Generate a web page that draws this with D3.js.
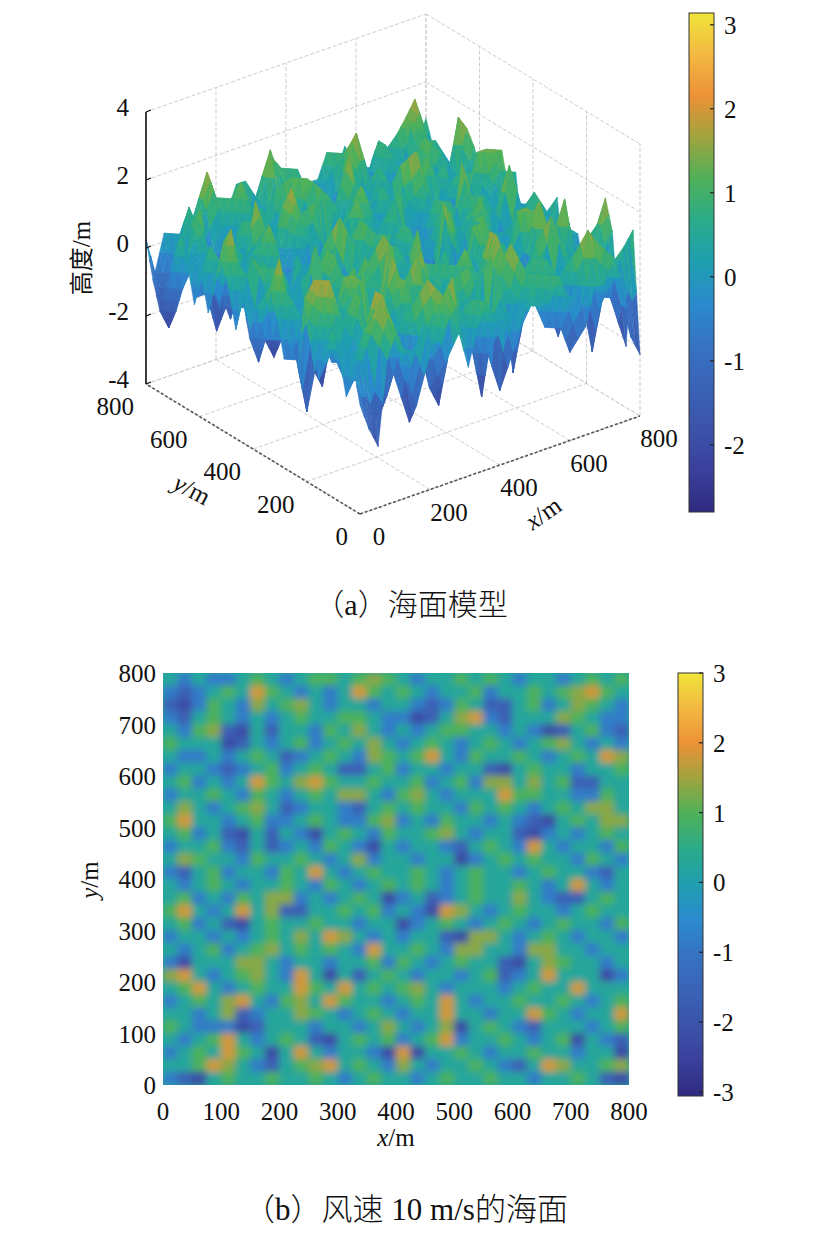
<!DOCTYPE html>
<html lang="zh">
<head>
<meta charset="UTF-8">
<title>海面模型</title>
<script src="https://d3js.org/d3.v7.min.js"></script>
<style>
  body { margin: 0; background: #fff; }
  svg { display: block; }
  text { text-spacing-trim: space-all; }
  .num { font-family: "Liberation Serif", "DejaVu Serif", serif; font-size: 25px; fill: #111; }
  .cjk { font-family: "Noto Sans CJK SC", sans-serif; fill: #111; }
</style>
</head>
<body>
<svg id="chart" width="824" height="1236"></svg>
<script>
// sea surface height, one digit per cell; digit -> level below
const levelValues = [-2.2, -1.6, -0.8, 0.25, 0.95, 1.35, 1.8];

// rows from y = 800 (top) down to y = 400
const seaRowsTop = [
  "32322343234434543233434323323434",
  "21234364323236434323342334345643",
  "10243253453233233212431134235432",
  "21343232343344322013562133354322",
  "32451031332435323234433232013421",
  "43330132342343532343234323453232",
  "32232343123432543463243343234365",
  "23321234234311342332331034332334",
  "34232364356433433423425535341133",
  "23343243234355324532333644332243",
  "35323453123321343433243432343553",
  "46332342234322452324332321034355",
  "34231031320343243345323310232343",
  "23342131232432032332134326323324",
  "35433243343235233233023434332432",
  "21342332436323433432343323433213"
];
// rows from y = 400 down to y = 0
const seaRowsBottom = [
  "32343233432432343432343343236323",
  "34232435523234302312343353211343",
  "46323635113343423206532343323433",
  "34231034334332330234323432343324",
  "23323234353653232331055323432332",
  "32342345343432633432553325533233",
  "20333553233233424323433103543323",
  "56323453263031343233234123633302",
  "34632343364363434532333234336333",
  "23435632453643323436323343343234",
  "33235123354323432336332336432336",
  "43222013332332353235034321333234",
  "32346323431034342346233432340321",
  "23436430363233206033432334332330",
  "33465321345634325323343213653345",
  "21034334334323433234334332334310"
];

const mapTicks = [0, 100, 200, 300, 400, 500, 600, 700, 800];
const boxTicks = [0, 200, 400, 600, 800];
const zTicks = [-4, -2, 0, 2, 4];
const barTicksA = [-2, -1, 0, 1, 2, 3];
const barTicksB = [-3, -2, -1, 0, 1, 2, 3];

// parula-like colour ramp as printed
const paletteStops = [0, 0.083, 0.167, 0.25, 0.333, 0.417, 0.5, 0.583, 0.667, 0.75, 0.833, 0.917, 1];
const paletteColors = ["#2f2a7f", "#3a409c", "#3b53a9", "#3a63b6", "#3672c2", "#2b8acd", "#1f9fb0",
                       "#2aab8a", "#4eb15a", "#9fa43f", "#ec9137", "#f3b842", "#f0e53a"];

const captionA = ["（", "a", "）", "海面模型"];
const captionB = ["（", "b", "）", "风速", " 10 m/s", "的海面"];

const svg = d3.select("#chart");
const defs = svg.append("defs");
const palette = d3.scaleLinear().domain(paletteStops).range(paletteColors).clamp(true);
const serif = "'Liberation Serif', 'DejaVu Serif', serif";

const seaGrid = seaRowsTop.concat(seaRowsBottom).map(row => Array.from(row, ch => levelValues[+ch]));
const nRows = seaGrid.length, nCols = seaGrid[0].length;

// colour limits of the two panels
const domA = [-2.8, 3.14];
const domB = [-3.06, 3.0];
const tA = d3.scaleLinear().domain(domA).range([0, 1]);
const tB = d3.scaleLinear().domain(domB).range([0, 1]);
const colorA = v => palette(tA(v));
const colorB = v => palette(tB(v));

function numText(x, y, s, anchor) {
  return svg.append("text").attr("class", "num").attr("font-family", serif)
    .attr("x", x).attr("y", y).attr("text-anchor", anchor || "start").text(s);
}

// ---------- (a) 3D surface ----------
const origin = [360, 514];
const ex = [280, -98], ey = [-214, -130], ez = [0, -272];
const sxy = d3.scaleLinear().domain([0, 800]).range([0, 1]);
const sz = d3.scaleLinear().domain([-4, 4]).range([0, 1]);
function proj(x, y, z) {
  const a = sxy(x), b = sxy(y), c = sz(z);
  return [origin[0] + a * ex[0] + b * ey[0] + c * ez[0],
          origin[1] + a * ex[1] + b * ey[1] + c * ez[1]];
}
const line3 = (p, q) => "M" + proj(...p) + "L" + proj(...q);

const grid3 = svg.append("g")
  .attr("fill", "none").attr("stroke", "#cdcdcd").attr("stroke-width", 1).attr("stroke-dasharray", "4,2");
zTicks.forEach(z => {
  grid3.append("path").attr("d", line3([0, 800, z], [800, 800, z]));
  grid3.append("path").attr("d", line3([800, 800, z], [800, 0, z]));
});
boxTicks.forEach(v => {
  grid3.append("path").attr("d", line3([v, 800, -4], [v, 800, 4]));
  grid3.append("path").attr("d", line3([800, v, -4], [800, v, 4]));
  grid3.append("path").attr("d", line3([v, 0, -4], [v, 800, -4]));
  grid3.append("path").attr("d", line3([0, v, -4], [800, v, -4]));
});

// surface facets: two triangles per cell, each split in four for a smoother
// (interp-like) colour blend; drawn back to front
const colX = d3.scaleLinear().domain([0, nCols - 1]).range([0, 800]);
const rowY = d3.scaleLinear().domain([0, nRows - 1]).range([800, 0]);
const mid = (a, b) => ({ p: [(a.p[0] + b.p[0]) / 2, (a.p[1] + b.p[1]) / 2], v: (a.v + b.v) / 2 });
const facets = [];
for (let r = 0; r < nRows - 1; r++) {
  for (let c = 0; c < nCols - 1; c++) {
    const tris = [[[c, r], [c + 1, r], [c + 1, r + 1]], [[c, r], [c + 1, r + 1], [c, r + 1]]];
    tris.forEach(tri => {
      const depth = d3.mean(tri, ([cc, rr]) => colX(cc) * 0.609 + rowY(rr) * 0.793);
      const [A, B, C] = tri.map(([cc, rr]) => ({ p: proj(colX(cc), rowY(rr), seaGrid[rr][cc]), v: seaGrid[rr][cc] }));
      const ab = mid(A, B), bc = mid(B, C), ca = mid(C, A);
      [[A, ab, ca], [ab, B, bc], [ca, bc, C], [ab, bc, ca]].forEach((sub, k) => {
        facets.push({ pts: sub.map(s => s.p), value: d3.mean(sub, s => s.v), depth, k });
      });
    });
  }
}
facets.sort((a, b) => b.depth - a.depth || a.k - b.k);
svg.append("g").selectAll("path")
  .data(facets)
  .join("path")
  .attr("d", q => "M" + q.pts.join("L") + "Z")
  .attr("fill", q => colorA(q.value))
  .attr("stroke", q => colorA(q.value))
  .attr("stroke-width", 0.5)
  .attr("stroke-linejoin", "round");

// axes of the box
const axes3 = svg.append("g").attr("fill", "none");
axes3.append("path").attr("d", line3([0, 800, -4], [0, 800, 4]))
  .attr("stroke", "#111").attr("stroke-width", 1.6);
axes3.append("path").attr("d", line3([0, 0, -4], [800, 0, -4]))
  .attr("stroke", "#555").attr("stroke-width", 1.6).attr("stroke-dasharray", "3,2");
axes3.append("path").attr("d", line3([0, 0, -4], [0, 800, -4]))
  .attr("stroke", "#555").attr("stroke-width", 1.6).attr("stroke-dasharray", "3,2");
zTicks.forEach(z => {
  const p = proj(0, 800, z);
  axes3.append("line").attr("x1", p[0]).attr("y1", p[1]).attr("x2", p[0] + 5).attr("y2", p[1] - 2)
    .attr("stroke", "#111").attr("stroke-width", 1.2);
  numText(p[0] - 17, p[1] + 4, z, "end");
});
boxTicks.forEach(v => {
  const px = proj(v, 0, -4);
  numText(px[0] + 19, px[1] + 31, v, "middle");
  const py = proj(0, v, -4);
  numText(py[0] - 12, py[1] + 31, v, "end");
});
svg.append("text").attr("class", "num").attr("font-family", serif)
  .attr("transform", "translate(188,497) rotate(28)").attr("text-anchor", "middle")
  .call(t => { t.append("tspan").attr("font-style", "italic").text("y"); t.append("tspan").text("/m"); });
svg.append("text").attr("class", "num").attr("font-family", serif)
  .attr("transform", "translate(548,520) rotate(-35)").attr("text-anchor", "middle")
  .call(t => { t.append("tspan").attr("font-style", "italic").text("x"); t.append("tspan").text("/m"); });
svg.append("text").attr("class", "num").attr("font-family", serif)
  .attr("transform", "translate(90,258) rotate(-90)").attr("text-anchor", "middle")
  .call(t => {
    t.append("tspan").attr("class", "cjk").attr("font-size", 24).text("高度");
    t.append("tspan").text("/m");
  });

// ---------- colour bars ----------
function colorBar(id, x, w, top, bottom, dom, ticks) {
  const grad = defs.append("linearGradient").attr("id", id)
    .attr("x1", 0).attr("y1", 1).attr("x2", 0).attr("y2", 0);
  paletteStops.forEach((s, i) => grad.append("stop").attr("offset", s).attr("stop-color", paletteColors[i]));
  const ys = d3.scaleLinear().domain(dom).range([bottom, top]);
  svg.append("rect").attr("x", x).attr("y", top).attr("width", w).attr("height", bottom - top)
    .attr("fill", `url(#${id})`).attr("stroke", "#333").attr("stroke-width", 1);
  ticks.forEach(v => {
    svg.append("line").attr("x1", x + w - 4).attr("x2", x + w).attr("y1", ys(v)).attr("y2", ys(v))
      .attr("stroke", "#222").attr("stroke-width", 1.2);
    numText(x + w + 10, ys(v) + 9, v);
  });
}
colorBar("barA", 689, 25, 13, 512, domA, barTicksA);
colorBar("barB", 678, 25, 673, 1096, domB, barTicksB);

// ---------- (b) plan view ----------
const mapX = d3.scaleLinear().domain([0, 800]).range([163, 629]);
const mapY = d3.scaleLinear().domain([0, 800]).range([1085, 673]);
const hx = d3.scaleBand().domain(d3.range(nCols)).range(mapX.range());
const hy = d3.scaleBand().domain(d3.range(nRows)).range([mapY(800), mapY(0)]);

defs.append("clipPath").attr("id", "mapClip").append("rect")
  .attr("x", mapX(0)).attr("y", mapY(800)).attr("width", mapX(800) - mapX(0)).attr("height", mapY(0) - mapY(800));
const soft = defs.append("filter").attr("id", "soft")
  .attr("filterUnits", "userSpaceOnUse")
  .attr("x", mapX(0) - 20).attr("y", mapY(800) - 20).attr("width", 510).attr("height", 460);
soft.append("feGaussianBlur").attr("stdDeviation", 3.7).attr("edgeMode", "duplicate");

const mapG = svg.append("g").attr("clip-path", "url(#mapClip)");
mapG.append("rect").attr("x", mapX(0)).attr("y", mapY(800))
  .attr("width", mapX(800) - mapX(0)).attr("height", mapY(0) - mapY(800)).attr("fill", colorB(0.25));
const cells = [];
seaGrid.forEach((row, r) => row.forEach((v, c) => cells.push({ r, c, v })));
mapG.append("g").attr("filter", "url(#soft)")
  .selectAll("rect")
  .data(cells)
  .join("rect")
  .attr("x", d => hx(d.c) - 0.3)
  .attr("y", d => hy(d.r) - 0.3)
  .attr("width", hx.bandwidth() + 0.6)
  .attr("height", hy.bandwidth() + 0.6)
  .attr("fill", d => colorB(d.v));

mapTicks.forEach(v => {
  numText(mapX(v), 1120, v, "middle");
  numText(156, mapY(v) + 9, v, "end");
});
svg.append("text").attr("class", "num").attr("font-family", serif)
  .attr("x", 396).attr("y", 1146).attr("text-anchor", "middle")
  .call(t => { t.append("tspan").attr("font-style", "italic").text("x"); t.append("tspan").text("/m"); });
svg.append("text").attr("class", "num").attr("font-family", serif)
  .attr("transform", "translate(98,880) rotate(-90)").attr("text-anchor", "middle")
  .call(t => { t.append("tspan").attr("font-style", "italic").text("y"); t.append("tspan").text("/m"); });

// ---------- captions ----------
function caption(parts, cx, y, size) {
  const t = svg.append("text").attr("x", cx).attr("y", y).attr("text-anchor", "middle")
    .attr("font-size", size).attr("fill", "#111");
  parts.forEach(p => {
    const latin = /^[a-z0-9 ./]+$/i.test(p);
    t.append("tspan")
      .attr("font-family", latin ? serif : "'Noto Sans CJK SC', sans-serif")
      .attr("font-weight", latin ? null : 300)
      .text(p);
  });
}
caption(captionA, 411, 615, 30);
caption(captionB, 406, 1220, 31);
</script>
</body>
</html>
